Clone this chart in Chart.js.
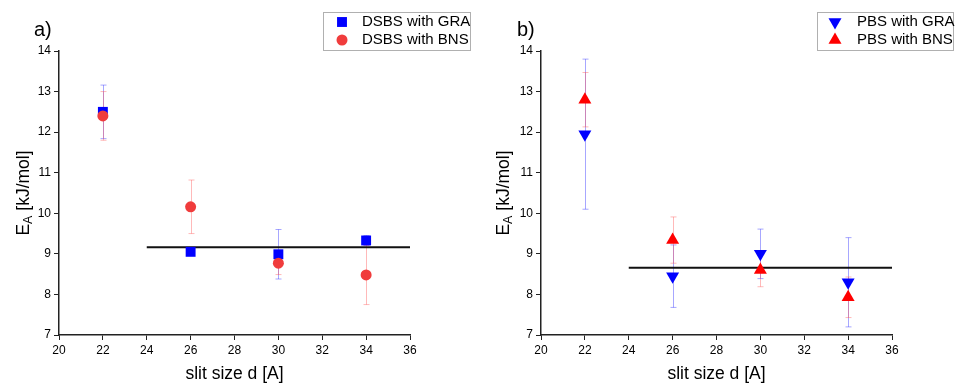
<!DOCTYPE html>
<html>
<head>
<meta charset="utf-8">
<script src="https://cdn.jsdelivr.net/npm/chart.js@4"></script>
<style>
  body { margin: 0; background: #fff; }
  canvas { position: absolute; top: 0; }
  #chart-a { left: 0; }
  #chart-b { left: 477px; }
</style>
</head>
<body>
<canvas id="chart-a" width="477" height="384"></canvas>
<canvas id="chart-b" width="478" height="384"></canvas>
<script>
// slit sizes (x values) shared by both panels
const slitSizes = [22, 26, 30, 34];

// panel a
const dsbsGra = [12.5, 9.05, 8.99, 9.33];
const dsbsGraErr = [0.66, 0.04, 0.61, 0.12];
const dsbsBns = [12.4, 10.16, 8.77, 8.48];
const dsbsBnsErr = [0.6, 0.66, 0.28, 0.73];
const fitA = 9.16;

// panel b
const pbsGra = [11.95, 8.45, 9.0, 8.3];
const pbsGraErr = [1.85, 0.77, 0.61, 1.1];
const pbsBns = [12.8, 9.34, 8.6, 7.93];
const pbsBnsErr = [0.67, 0.57, 0.41, 0.5];
const fitB = 8.66;

const fitRange = [24, 36];
const xTicks = [20, 22, 24, 26, 28, 30, 32, 34, 36];
const yTicks = [7, 8, 9, 10, 11, 12, 13, 14];

const FONT = "'Liberation Sans', Arial, sans-serif";

function pts(ys) {
    return slitSizes.map((x, i) => ({x: x, y: ys[i]}));
}

// error bars drawn under the markers
const errorBars = {
    id: 'errorBars',
    beforeDatasetsDraw(chart) {
        const ctx = chart.ctx;
        const xs = chart.scales.x, ys = chart.scales.y;
        chart.data.datasets.forEach(ds => {
            if (!ds.err) return;
            ctx.save();
            ctx.strokeStyle = ds.errColor;
            ctx.lineWidth = 1;
            ds.data.forEach((p, i) => {
                const px = Math.round(xs.getPixelForValue(p.x)) + 0.5;
                const top = ys.getPixelForValue(p.y + ds.err[i]);
                const bot = ys.getPixelForValue(p.y - ds.err[i]);
                ctx.beginPath();
                ctx.moveTo(px, top); ctx.lineTo(px, bot);
                ctx.moveTo(px - 3, top); ctx.lineTo(px + 3, top);
                ctx.moveTo(px - 3, bot); ctx.lineTo(px + 3, bot);
                ctx.stroke();
            });
            ctx.restore();
        });
    }
};

// titles, panel letter and framed legend
const decorations = {
    id: 'decorations',
    afterDraw(chart, args, opts) {
        const ctx = chart.ctx;
        const area = chart.chartArea;
        ctx.save();
        ctx.fillStyle = '#000';
        ctx.textBaseline = 'middle';

        // panel letter
        ctx.font = '20px ' + FONT;
        ctx.textAlign = 'left';
        ctx.fillText(opts.letter, opts.letterX, 30);

        // x title
        ctx.font = '17.5px ' + FONT;
        ctx.textAlign = 'center';
        ctx.fillText('slit size d [A]', (area.left + area.right) / 2, 374);

        // y title with subscript
        ctx.translate(opts.yTitleX, (area.top + area.bottom) / 2);
        ctx.rotate(-Math.PI / 2);
        ctx.textAlign = 'left';
        ctx.font = '17.5px ' + FONT;
        const wE = ctx.measureText('E').width;
        ctx.font = '12.5px ' + FONT;
        const wA = ctx.measureText('A').width;
        ctx.font = '17.5px ' + FONT;
        const wR = ctx.measureText(' [kJ/mol]').width;
        let x0 = -(wE + wA + wR) / 2;
        ctx.fillText('E', x0, 0);
        ctx.font = '12.5px ' + FONT;
        ctx.fillText('A', x0 + wE, 5);
        ctx.font = '17.5px ' + FONT;
        ctx.fillText(' [kJ/mol]', x0 + wE + wA, 0);
        ctx.restore();

        // legend
        const lg = opts.legend;
        ctx.save();
        ctx.strokeStyle = '#b0b0b0';
        ctx.lineWidth = 1;
        ctx.strokeRect(lg.x + 0.5, lg.y + 0.5, lg.w, lg.h);
        ctx.font = '15px ' + FONT;
        ctx.textBaseline = 'middle';
        ctx.textAlign = 'left';
        chart.data.datasets.filter(d => d.err).forEach((d, i) => {
            const cy = lg.y + 10 + i * 18;
            ctx.fillStyle = d.pointBackgroundColor;
            Chart.helpers.drawPoint(ctx, {
                pointStyle: d.pointStyle,
                radius: d.pointRadius,
                rotation: d.pointRotation || 0,
                borderWidth: 0
            }, lg.markerX, cy);
            ctx.fillStyle = '#000';
            ctx.fillText(d.label, lg.textX, cy);
        });
        ctx.restore();
    }
};

function makeChart(id, sets, fit, yWidth, deco) {
    const datasets = sets.map(s => ({
        type: 'scatter',
        label: s.label,
        data: pts(s.values),
        err: s.err,
        errColor: s.errColor,
        pointStyle: s.style,
        pointRadius: s.radius,
        pointRotation: s.rotation || 0,
        pointBackgroundColor: s.color,
        pointBorderWidth: 0,
        backgroundColor: s.color,
        order: s.order
    }));
    datasets.push({
        type: 'line',
        label: 'fit',
        data: fitRange.map(x => ({x: x, y: fit})),
        borderColor: '#111',
        borderWidth: 2,
        pointRadius: 0,
        order: 5
    });
    return new Chart(document.getElementById(id), {
        type: 'scatter',
        data: {datasets: datasets},
        options: {
            responsive: false,
            animation: false,
            devicePixelRatio: 1,
            layout: {padding: {top: 51, right: deco.right, left: 0, bottom: 0}},
            plugins: {
                legend: {display: false},
                tooltip: {enabled: false},
                decorations: deco
            },
            scales: {
                x: {
                    type: 'linear',
                    min: 20, max: 36,
                    afterBuildTicks: s => { s.ticks = xTicks.map(v => ({value: v})); },
                    afterFit: s => { s.height = 49; },
                    border: {display: true, color: '#222', width: 1.5},
                    grid: {drawOnChartArea: false, tickLength: 5, color: '#222'},
                    ticks: {color: '#000', font: {family: FONT, size: 12}, padding: 3, maxRotation: 0}
                },
                y: {
                    type: 'linear',
                    min: 7, max: 14,
                    afterBuildTicks: s => { s.ticks = yTicks.map(v => ({value: v})); },
                    afterFit: s => { s.width = yWidth; },
                    border: {display: true, color: '#222', width: 1.5},
                    grid: {drawOnChartArea: false, tickLength: 5, color: '#222'},
                    ticks: {color: '#000', font: {family: FONT, size: 12}, padding: 3}
                }
            }
        },
        plugins: [errorBars, decorations]
    });
}

makeChart('chart-a', [
    {label: 'DSBS with GRA', values: dsbsGra, err: dsbsGraErr, color: '#0000ff',
     errColor: 'rgba(60,60,255,0.45)', style: 'rect', radius: 7, order: 2},
    {label: 'DSBS with BNS', values: dsbsBns, err: dsbsBnsErr, color: '#f03c3c',
     errColor: 'rgba(255,80,80,0.4)', style: 'circle', radius: 5.5, order: 1}
], fitA, 59, {
    right: 67, letter: 'a)', letterX: 34, yTitleX: 24,
    legend: {x: 323, y: 12, w: 147, h: 38, markerX: 342, textX: 362}
});

makeChart('chart-b', [
    {label: 'PBS with GRA', values: pbsGra, err: pbsGraErr, color: '#0000ff',
     errColor: 'rgba(60,60,255,0.45)', style: 'triangle', radius: 7.5, rotation: 180, order: 2},
    {label: 'PBS with BNS', values: pbsBns, err: pbsBnsErr, color: '#ff0000',
     errColor: 'rgba(255,80,80,0.4)', style: 'triangle', radius: 7.5, order: 1}
], fitB, 64, {
    right: 63, letter: 'b)', letterX: 40, yTitleX: 27,
    legend: {x: 340, y: 12, w: 136, h: 38, markerX: 358, textX: 380}
});
</script>
</body>
</html>
